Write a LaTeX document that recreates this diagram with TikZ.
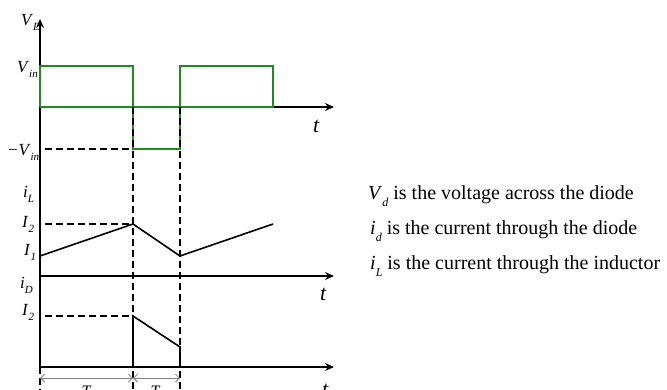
\documentclass[tikz,border=0pt]{standalone}
\usepackage{fontspec}
\setmainfont{Liberation Serif}
\usetikzlibrary{arrows.meta}
\definecolor{wgreen}{RGB}{30,140,30}
\newcommand\lbl[3]{\fontsize{#3}{#3}\selectfont\textit{#1}\raisebox{-0.35em}{\fontsize{11}{11}\selectfont\textit{#2}}}
\begin{document}
\begin{tikzpicture}[x=1pt,y=-1pt,
 axis/.style={line width=1.8pt,-{Stealth[length=9pt,width=8pt,inset=3pt]}},
 wave/.style={line width=1.6pt},
 gwave/.style={line width=1.6pt,draw=wgreen},
 guide/.style={line width=1.6pt,dash pattern=on 7pt off 4pt},
 lab/.style={inner sep=0pt,anchor=base west},
 span/.style={gray,line width=0.8pt,{Straight Barb[length=4pt]}-{Straight Barb[length=4pt]}},
 note/.style={inner sep=0pt,anchor=base west,font=\fontsize{20}{24}\selectfont}]
\useasboundingbox (0,0) rectangle (667,389);
\clip (0,0) rectangle (667,389);
% axes
\coordinate (top) at (40,19);
\coordinate (o1) at (40,107);
\coordinate (e1) at (334,107);
\coordinate (o2) at (40,276);
\coordinate (e2) at (334,276);
\coordinate (o3) at (40,367);
\coordinate (e3) at (334,367);
\coordinate (bot) at (40,395);
\draw[axis] (o3) -- (top);
\draw[axis] (o1) -- (e1);
\draw[axis] (o2) -- (e2);
\draw[axis] (o3) -- (e3);
\draw[guide] (o3) -- (bot);
% V_D waveform
\coordinate (g0) at (40,66);
\coordinate (g1) at (133,66);
\coordinate (g2) at (133,149);
\coordinate (g3) at (180,149);
\coordinate (g4) at (180,66);
\coordinate (g5) at (273,66);
\coordinate (g6) at (273,107);
\draw[gwave] (o1) -- (g0) -- (g1) -- (g2) -- (g3) -- (g4) -- (g5) -- (g6) -- (o1);
% guides
\coordinate (d1s) at (45,149);
\coordinate (a1) at (133,107);
\coordinate (a2) at (180,107);
\coordinate (b1) at (133,395);
\coordinate (b2) at (180,395);
\draw[guide] (d1s) -- (g2);
\draw[guide] (a1) -- (b1);
\draw[guide] (a2) -- (b2);
% i_L waveform
\coordinate (l0) at (40,256);
\coordinate (l1) at (133,224);
\coordinate (l2) at (180,256);
\coordinate (l3) at (273,224);
\coordinate (d2s) at (45,224);
\draw[guide] (d2s) -- (l1);
\draw[wave] (l0) -- (l1) -- (l2) -- (l3);
% i_D waveform
\coordinate (k0) at (133,367);
\coordinate (k1) at (133,316);
\coordinate (k2) at (180,347);
\coordinate (k3) at (180,367);
\coordinate (d3s) at (45,316);
\draw[guide] (d3s) -- (k1);
\draw[wave] (k0) -- (k1) -- (k2) -- (k3);
% spans
\coordinate (s0) at (40,378);
\coordinate (s1) at (133,378);
\coordinate (s2) at (180,378);
\draw[span] (s0) -- (s1);
\draw[span] (s1) -- (s2);
\node[inner sep=0pt,anchor=base,font=\fontsize{16}{16}\selectfont\itshape] (T1) at (86,396) {T};
\node[inner sep=0pt,anchor=base,font=\fontsize{16}{16}\selectfont\itshape] (T2) at (155,396) {T};
% labels
\node[lab] (vd) at (21,25) {\lbl{V}{D}{17}};
\node[lab] (vin) at (17,72) {\lbl{V}{in}{17}};
\node[lab] (mvin) at (7,155) {\fontsize{17}{17}\selectfont\textit{−V}\raisebox{-0.35em}{\fontsize{11}{11}\selectfont\textit{in}}};
\node[lab] (il) at (23,197) {\lbl{i}{L}{17}};
\node[lab] (i2a) at (22,227) {\lbl{I}{2}{17}};
\node[lab] (i1) at (24,255) {\lbl{I}{1}{17}};
\node[lab] (id) at (20,288) {\lbl{i}{D}{17}};
\node[lab] (i2b) at (22,315) {\lbl{I}{2}{17}};
\node[lab,font=\fontsize{22}{22}\selectfont\itshape] (t1) at (313,132) {t};
\node[lab,font=\fontsize{22}{22}\selectfont\itshape] (t2) at (320,300) {t};
\node[lab,font=\fontsize{22}{22}\selectfont\itshape] (t3) at (322,396) {t};
% notes
\node[note] (n1) at (368,199) {\textit{V}\raisebox{-0.35em}{\fontsize{12}{12}\selectfont\textit{d}} is the voltage across the diode};
\node[note] (n2) at (370,234) {\textit{i}\raisebox{-0.35em}{\fontsize{12}{12}\selectfont\textit{d}} is the current through the diode};
\node[note] (n3) at (370,269) {\textit{i}\raisebox{-0.35em}{\fontsize{12}{12}\selectfont\textit{L}} is the current through the inductor};
\end{tikzpicture}
\end{document}
